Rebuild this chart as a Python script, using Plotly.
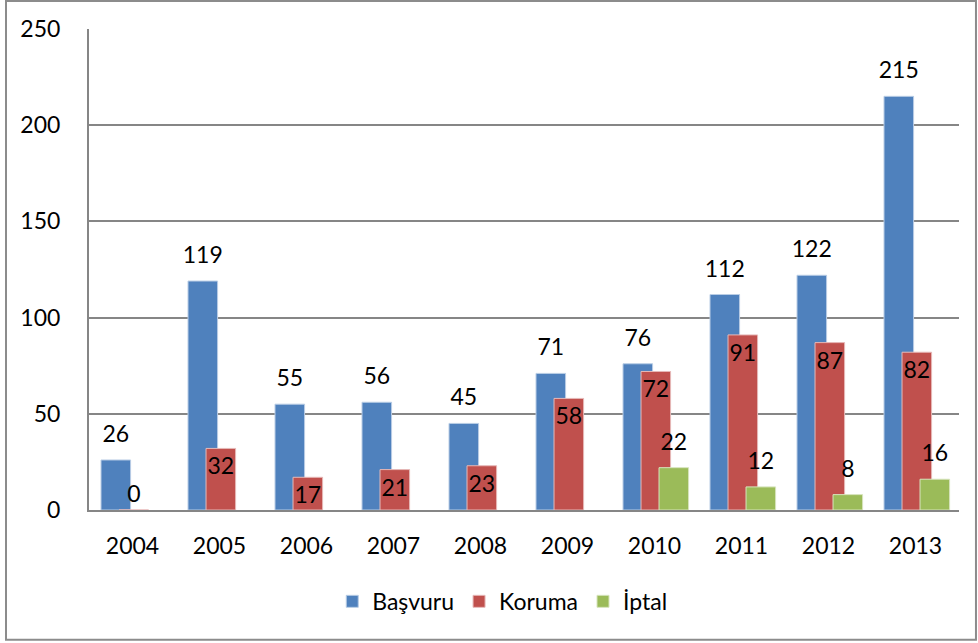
import plotly.graph_objects as go

years = ["2004", "2005", "2006", "2007", "2008", "2009", "2010", "2011", "2012", "2013"]
basvuru = [26, 119, 55, 56, 45, 71, 76, 112, 122, 215]
koruma = [0, 32, 17, 21, 23, 58, 72, 91, 87, 82]
iptal = [None, None, None, None, None, None, 22, 12, 8, 16]

FONT = "Lato"
GRID = "#868686"
SIZE = 23
BAR_W = 0.34
pos = list(range(len(years)))


def add_series(fig, values, name, color, edge, offset, label_pos):
    fig.add_trace(
        go.Bar(
            x=pos, y=values, name=name, marker_color=color,
            marker_line=dict(color=edge, width=1),
            width=BAR_W, offset=offset,
            text=values if label_pos == "inside" else None,
            textposition=["outside" if v == 0 else "inside" for v in values]
            if label_pos == "inside" else "none",
            insidetextanchor="end", constraintext="none", cliponaxis=False,
            textfont=dict(size=SIZE, color="black", family=FONT),
            hoverinfo="y",
        )
    )
    if label_pos == "above":
        # labels floated above the bar with an invisible marker as spacer
        fig.add_trace(
            go.Scatter(
                x=[p + offset + BAR_W / 2 for p in pos], y=values,
                mode="markers+text", text=values, textposition="top center",
                marker=dict(size=18, opacity=0), showlegend=False,
                textfont=dict(size=SIZE, color="black", family=FONT),
                cliponaxis=False, hoverinfo="skip",
            )
        )


fig = go.Figure()
add_series(fig, basvuru, "Başvuru", "#4F81BD", "#B9CDE5", -0.362, "above")
add_series(fig, koruma, "Koruma", "#C0504D", "#E6B9B8", -0.155, "inside")
add_series(fig, iptal, "İptal", "#9BBB59", "#D7E4BD", 0.052, "above")

fig.update_layout(
    barmode="overlay",
    width=978,
    height=643,
    margin=dict(l=89, r=19, t=29, b=133),
    paper_bgcolor="white",
    plot_bgcolor="white",
    font=dict(family=FONT, size=SIZE, color="black"),
    showlegend=True,
    legend=dict(
        orientation="h", x=0.475, xanchor="center", y=-0.19, yanchor="middle",
        font=dict(size=SIZE), itemwidth=30,
    ),
    xaxis=dict(
        range=[-0.5, len(years) - 0.5], tickvals=pos, ticktext=years,
        showgrid=False, showline=True, linecolor=GRID, linewidth=2,
        zeroline=False, ticks="", ticklabelstandoff=14,
        tickfont=dict(size=SIZE),
    ),
    yaxis=dict(
        range=[0, 250], dtick=50, showgrid=True, gridcolor=GRID, gridwidth=2,
        showline=True, linecolor=GRID, linewidth=2, zeroline=False,
        ticks="", ticklabelstandoff=22,
        tickfont=dict(size=SIZE),
    ),
    shapes=[
        dict(
            type="rect", xref="paper", yref="paper",
            x0=-0.0954, x1=1.0195, y0=-0.270, y1=1.058,
            line=dict(color="#8C8C8C", width=2), layer="below",
        )
    ],
)

fig.write_html(
    "out.html",
    config={"displayModeBar": False},
    post_script="document.body.style.margin='0';",
)
